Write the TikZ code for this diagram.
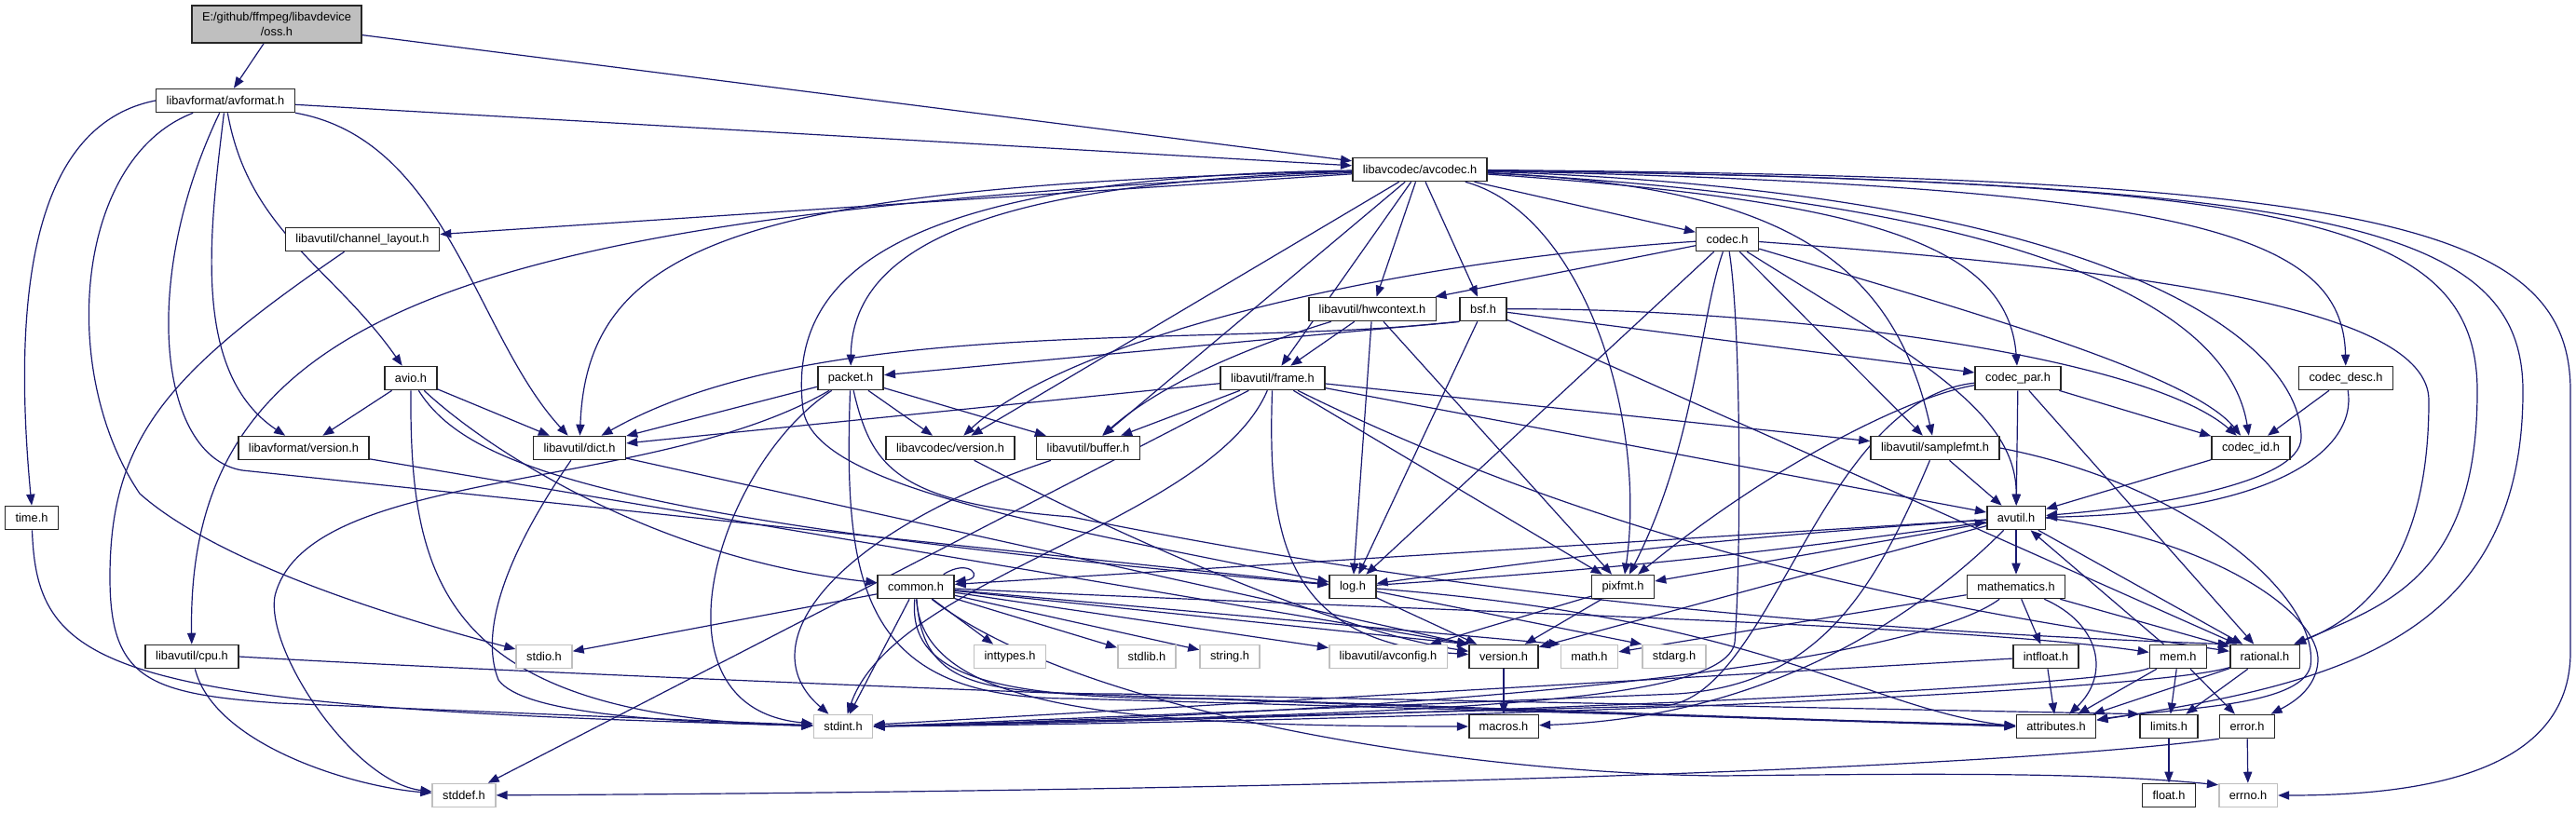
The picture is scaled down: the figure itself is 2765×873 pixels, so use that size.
\documentclass[tikz,border=0pt]{standalone}
\usepackage{fontspec}
\setmainfont{Liberation Sans}
\usetikzlibrary{arrows.meta}
\definecolor{EdgeBlue}{RGB}{25,25,112}
\definecolor{SysGray}{RGB}{191,191,191}
\pgfdeclarelayer{background}
\pgfdeclarelayer{edges}
\pgfsetlayers{background,edges,main}

\begin{document}
\begin{tikzpicture}[x=0.5pt,y=0.5pt,
  hdr/.style={draw=black!85,fill=white,line width=0.8pt,
              minimum height=12.5pt,inner xsep=5.5pt,inner ysep=0pt,
              font=\fontsize{6.4}{7.6}\selectfont},
  syshdr/.style={hdr,draw=SysGray},
  dep/.style={-{Triangle[length=6pt,width=4.6pt]},EdgeBlue,line width=0.6pt}]
  \useasboundingbox (0,0) rectangle (2765,-873);
  \begin{pgfonlayer}{background}
    \fill[white] (0,0) rectangle (2765,-873);
  \end{pgfonlayer}

  \node[hdr,fill=SysGray,align=center,minimum height=20pt] (oss) at (297,-26)
        {E:/github/ffmpeg/libavdevice\\/oss.h};
  \node[hdr] (avformat) at (242,-108) {libavformat/avformat.h};
  \node[hdr] (avcodec) at (1524,-182) {libavcodec/avcodec.h};
  \node[hdr] (chlayout) at (389,-257) {libavutil/channel\_layout.h};
  \node[hdr] (codec) at (1854,-257) {codec.h};
  \node[hdr] (hwctx) at (1473,-332) {libavutil/hwcontext.h};
  \node[hdr] (bsf) at (1592,-332) {bsf.h};
  \node[hdr] (avio) at (441,-406) {avio.h};
  \node[hdr] (packet) at (913,-406) {packet.h};
  \node[hdr] (frame) at (1366,-406) {libavutil/frame.h};
  \node[hdr] (codecpar) at (2166,-406) {codec\_par.h};
  \node[hdr] (codecdesc) at (2518,-406) {codec\_desc.h};
  \node[hdr] (lavfver) at (326,-481) {libavformat/version.h};
  \node[hdr] (dict) at (622,-481) {libavutil/dict.h};
  \node[hdr] (lavcver) at (1020,-481) {libavcodec/version.h};
  \node[hdr] (buffer) at (1168,-481) {libavutil/buffer.h};
  \node[hdr] (samplefmt) at (2077,-481) {libavutil/samplefmt.h};
  \node[hdr] (codecid) at (2416,-481) {codec\_id.h};
  \node[hdr] (timeh) at (34,-556) {time.h};
  \node[hdr] (avutil) at (2164,-556) {avutil.h};
  \node[hdr] (common) at (983,-630) {common.h};
  \node[hdr] (logh) at (1452,-630) {log.h};
  \node[hdr] (pixfmt) at (1742,-630) {pixfmt.h};
  \node[hdr] (mathem) at (2164,-630) {mathematics.h};
  \node[hdr] (cpu) at (206,-705) {libavutil/cpu.h};
  \node[syshdr] (stdio) at (584,-705) {stdio.h};
  \node[syshdr] (inttypes) at (1084,-705) {inttypes.h};
  \node[syshdr] (stdlib) at (1231,-705) {stdlib.h};
  \node[syshdr] (stringh) at (1320,-705) {string.h};
  \node[syshdr] (avconfig) at (1490,-705) {libavutil/avconfig.h};
  \node[hdr] (version) at (1614,-705) {version.h};
  \node[syshdr] (mathh) at (1706,-705) {math.h};
  \node[syshdr] (stdarg) at (1797,-705) {stdarg.h};
  \node[hdr] (intfloat) at (2196,-705) {intfloat.h};
  \node[hdr] (mem) at (2338,-705) {mem.h};
  \node[hdr] (rational) at (2431,-705) {rational.h};
  \node[syshdr] (stdint) at (905,-780) {stdint.h};
  \node[hdr] (macros) at (1614,-780) {macros.h};
  \node[hdr] (attributes) at (2207,-780) {attributes.h};
  \node[hdr] (limits) at (2328,-780) {limits.h};
  \node[hdr] (error) at (2412,-780) {error.h};
  \node[syshdr] (stddef) at (498,-854) {stddef.h};
  \node[hdr] (floath) at (2328,-854) {float.h};
  \node[syshdr] (errno) at (2413,-854) {errno.h};

  \begin{pgfonlayer}{edges}
  \draw[dep] (oss) -- (avformat);
  \draw[dep] (oss) -- (avcodec);

  \draw[dep] (avformat) -- (avcodec);
  \draw[dep] (avformat.west) .. controls (30,-135) and (14,-330) .. (timeh.north);
  \draw[dep] (avformat) .. controls (80,-170) and (62,-400) .. (150,-530)
             .. controls (240,-610) and (450,-670) .. (stdio);
  \draw[dep] (avformat) .. controls (150,-300) and (170,-490) .. (260,-505) -- (logh);
  \draw[dep] (avformat) to[out=-80,in=125] (avio);
  \draw[dep] (avformat) .. controls (225,-250) and (205,-400) .. (lavfver);
  \draw[dep] (avformat) .. controls (480,-150) and (510,-360) .. (dict);

  \draw[dep] (avcodec) -- (chlayout);
  \draw[dep] (avcodec) .. controls (800,-200) and (630,-260) .. (dict);
  \draw[dep] (avcodec) .. controls (500,-230) and (200,-330) .. (cpu);
  \draw[dep] (avcodec) .. controls (1100,-195) and (915,-250) .. (packet);
  \draw[dep] (avcodec) .. controls (950,-190) and (845,-300) .. (862,-440)
             .. controls (875,-520) and (1100,-560) .. (logh);
  \draw[dep] (avcodec) -- (lavcver);
  \draw[dep] (avcodec) -- (buffer);
  \draw[dep] (avcodec) -- (frame);
  \draw[dep] (avcodec) -- (hwctx);
  \draw[dep] (avcodec) -- (bsf);
  \draw[dep] (avcodec) -- (codec);
  \draw[dep] (avcodec) .. controls (1700,-230) and (1768,-450) .. (pixfmt);
  \draw[dep] (avcodec) .. controls (1900,-200) and (2030,-270) .. (samplefmt);
  \draw[dep] (avcodec) .. controls (2000,-215) and (2155,-260) .. (codecpar);
  \draw[dep] (avcodec) .. controls (2150,-215) and (2390,-320) .. (codecid);
  \draw[dep] (avcodec) .. controls (2250,-205) and (2470,-360) .. (2470,-470)
             .. controls (2470,-520) and (2300,-545) .. (avutil);
  \draw[dep] (avcodec) .. controls (2350,-200) and (2515,-250) .. (codecdesc);
  \draw[dep] (avcodec) .. controls (2450,-195) and (2659,-230) .. (2659,-420)
             .. controls (2659,-620) and (2560,-650) .. (rational);
  \draw[dep] (avcodec) .. controls (2500,-195) and (2708,-240) .. (2708,-420)
             .. controls (2708,-690) and (2500,-735) .. (attributes);
  \draw[dep] (avcodec) .. controls (2550,-190) and (2759,-240) .. (2759,-420) -- (2759,-700)
             .. controls (2759,-830) and (2600,-854) .. (errno);

  \draw[dep] (codec) -- (hwctx);
  \draw[dep] (codec) .. controls (1500,-280) and (1150,-360) .. (lavcver);
  \draw[dep] (codec) -- (logh);
  \draw[dep] (codec) .. controls (1825,-340) and (1819,-480) .. (pixfmt);
  \draw[dep] (codec) .. controls (1869,-350) and (1869,-600) .. (1862,-690)
             .. controls (1850,-760) and (1500,-765) .. (stdint.east);
  \draw[dep] (codec) -- (samplefmt);
  \draw[dep] (codec) .. controls (2050,-380) and (2165,-440) .. (avutil);
  \draw[dep] (codec) .. controls (2100,-330) and (2350,-400) .. (codecid);
  \draw[dep] (codec) .. controls (2300,-290) and (2607,-330) .. (2607,-430)
             .. controls (2607,-600) and (2540,-660) .. (rational);

  \draw[dep] (bsf.south west) .. controls (1300,-375) and (880,-335) .. (dict);
  \draw[dep] (bsf.south west) -- (packet);
  \draw[dep] (bsf) -- (logh);
  \draw[dep] (bsf) -- (codecpar);
  \draw[dep] (bsf) .. controls (1900,-330) and (2300,-380) .. (codecid);
  \draw[dep] (bsf) -- (rational);

  \draw[dep] (hwctx) .. controls (1380,-360) and (1260,-400) .. (buffer);
  \draw[dep] (hwctx) -- (frame);
  \draw[dep] (hwctx) -- (logh);
  \draw[dep] (hwctx) -- (pixfmt);

  \draw[dep] (packet) .. controls (700,-530) and (330,-500) .. (295,-640)
             .. controls (285,-700) and (380,-840) .. (stddef);
  \draw[dep] (packet) .. controls (770,-500) and (690,-760) .. (stdint);
  \draw[dep] (packet) .. controls (905,-630) and (925,-750) .. (1150,-750) -- (attributes);
  \draw[dep] (packet) -- (buffer);
  \draw[dep] (packet) -- (dict);
  \draw[dep] (packet) .. controls (935,-500) and (960,-540) .. (1150,-555)
             .. controls (1400,-605) and (1780,-670) .. (rational.north west);
  \draw[dep] (packet) -- (lavcver);

  \draw[dep] (frame) -- (stddef);
  \draw[dep] (frame) .. controls (1300,-560) and (960,-620) .. (stdint);
  \draw[dep] (frame) -- (avutil);
  \draw[dep] (frame) -- (buffer);
  \draw[dep] (frame) -- (dict);
  \draw[dep] (frame) .. controls (1800,-620) and (2200,-670) .. (rational);
  \draw[dep] (frame) -- (samplefmt);
  \draw[dep] (frame) -- (pixfmt);
  \draw[dep] (frame) .. controls (1360,-580) and (1380,-690) .. (version);

  \draw[dep] (codecpar) .. controls (1950,-430) and (1900,-760) .. (1780,-758) -- (stdint.east);
  \draw[dep] (codecpar) -- (avutil);
  \draw[dep] (codecpar) -- (rational);
  \draw[dep] (codecpar) .. controls (2050,-425) and (1900,-500) .. (pixfmt);
  \draw[dep] (codecpar) -- (codecid);

  \draw[dep] (codecdesc) .. controls (2530,-480) and (2450,-550) .. (avutil);
  \draw[dep] (codecdesc) -- (codecid);
  \draw[dep] (codecid) -- (avutil);

  \draw[dep] (avio) -- (lavfver);
  \draw[dep] (avio) -- (dict);
  \draw[dep] (avio) .. controls (440,-620) and (470,-770) .. (stdint);
  \draw[dep] (avio) .. controls (520,-480) and (700,-600) .. (common);
  \draw[dep] (avio) .. controls (500,-500) and (650,-560) .. (logh);

  \draw[dep] (chlayout) .. controls (180,-400) and (118,-470) .. (118,-620)
             .. controls (118,-730) and (160,-745) .. (300,-755) -- (stdint);
  \draw[dep] (timeh) .. controls (40,-720) and (110,-760) .. (stdint);
  \draw[dep] (cpu) .. controls (230,-800) and (380,-845) .. (stddef);
  \draw[dep] (cpu.east) .. controls (600,-725) and (1500,-760) .. (attributes.west);
  \draw[dep] (dict) .. controls (540,-600) and (515,-680) .. (535,-730)
             .. controls (560,-765) and (700,-775) .. (stdint);
  \draw[dep] (dict) -- (version.north west);
  \draw[dep] (lavfver) -- (version.north west);
  \draw[dep] (lavcver) .. controls (1250,-600) and (1450,-680) .. (version);
  \draw[dep] (buffer) .. controls (900,-570) and (800,-690) .. (stdint);

  \draw[dep] (samplefmt) -- (avutil);
  \draw[dep] (samplefmt) .. controls (2010,-640) and (1950,-735) .. (1800,-745) -- (stdint.east);
  \draw[dep] (samplefmt.east) .. controls (2350,-520) and (2490,-640) .. (2480,-715)
             .. controls (2470,-760) and (2330,-760) .. (attributes);

  \draw[dep] (avutil) -- (common);
  \draw[dep] (avutil) to[bend right=2] (logh);
  \draw[dep] (avutil) -- (pixfmt);
  \draw[dep] (avutil) -- (mathem);
  \draw[dep] (avutil) -- (rational);
  \draw[dep] (avutil) -- (version);
  \draw[dep] (avutil) .. controls (2060,-660) and (1900,-770) .. (macros);
  \draw[dep] (avutil.east) .. controls (2380,-580) and (2490,-660) .. (2488,-710)
             .. controls (2486,-740) and (2460,-755) .. (error);

  \draw[dep] ([xshift=-6pt]common.north east) .. controls +(14pt,9pt) and +(16pt,2pt)
             .. ([yshift=-4pt]common.north east);
  \draw[dep] (common) -- (stdio);
  \draw[dep] (common) -- (stdint);
  \draw[dep] (common) -- (inttypes);
  \draw[dep] (common) -- (stdlib);
  \draw[dep] (common) -- (stringh);
  \draw[dep] (common) -- (avconfig);
  \draw[dep] (common) -- (version.north west);
  \draw[dep] (common) -- (mathh.north west);
  \draw[dep] (common) .. controls (1500,-655) and (2100,-670) .. (mem);
  \draw[dep] (common) .. controls (990,-760) and (1200,-780) .. (macros);
  \draw[dep] (common) .. controls (975,-720) and (1050,-752) .. (1300,-750) -- (attributes.west);
  \draw[dep] (common) .. controls (990,-730) and (1040,-745) .. (1200,-745) -- (limits.north west);
  \draw[dep] (common) .. controls (1150,-760) and (1550,-830) .. (1846,-833)
             .. controls (2100,-830) and (2250,-830) .. ([yshift=-1pt]errno.north west);

  \draw[dep] (logh) -- (stdarg.north west);
  \draw[dep] (logh) to[bend right=2] (avutil);
  \draw[dep] (logh) .. controls (1900,-665) and (2000,-760) .. (attributes.west);
  \draw[dep] (logh) -- (version);

  \draw[dep] (pixfmt) -- (avconfig);
  \draw[dep] (pixfmt) -- (version);

  \draw[dep] (mathem) -- (mathh);
  \draw[dep] (mathem) .. controls (2070,-700) and (1700,-760) .. (stdint.east);
  \draw[dep] (mathem) -- (intfloat);
  \draw[dep] (mathem) .. controls (2255,-670) and (2265,-725) .. (attributes);
  \draw[dep] (mathem) -- (rational);

  \draw[dep] (intfloat) -- (attributes);
  \draw[dep] (intfloat) -- (stdint);
  \draw[dep] (mem) -- (avutil);
  \draw[dep] (mem) .. controls (2250,-740) and (1500,-770) .. (stdint.east);
  \draw[dep] (mem) -- (attributes);
  \draw[dep] (mem) -- (limits);
  \draw[dep] (mem) -- (error);
  \draw[dep] (rational) .. controls (2300,-745) and (1500,-775) .. (stdint.east);
  \draw[dep] (rational) -- (attributes);
  \draw[dep] (rational) -- (limits);
  \draw[dep] (version) -- (macros);
  \draw[dep] (error) -- (errno);
  \draw[dep] (error.south west) .. controls (2100,-830) and (1300,-850) .. (stddef);
  \draw[dep] (limits) -- (floath);
  \end{pgfonlayer}
\end{tikzpicture}
\end{document}
